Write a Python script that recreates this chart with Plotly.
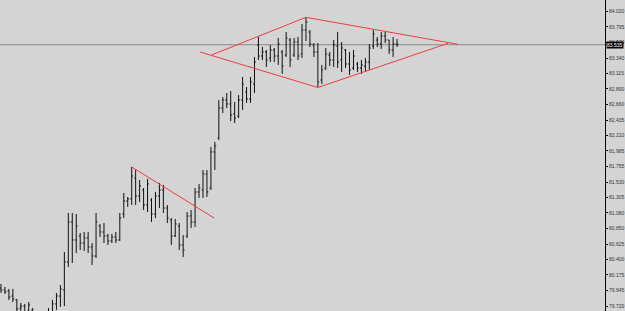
import plotly.graph_objects as go

# ---- data (prices) ----
bar_index = list(range(101))

high = [80.042, 79.998, 79.969, 79.969, 79.823, 79.764, 79.750, 79.779, 79.691, 79.618,
        79.545, 79.589, 79.691, 79.808, 79.910, 80.027, 80.509, 81.078, 81.078, 81.064,
        80.786, 80.801, 80.801, 80.640, 81.078, 80.918, 80.932, 80.772, 80.772, 80.801,
        81.078, 81.370, 81.312, 81.750, 81.706, 81.560, 81.443, 81.575, 81.297, 81.385,
        81.516, 81.487, 81.195, 81.005, 80.991, 80.932, 80.757, 81.093, 81.122, 81.443,
        81.502, 81.706, 81.706, 82.042, 82.115, 82.728, 82.772, 82.830, 82.859, 82.699,
        82.801, 83.064, 82.918, 83.064, 83.356, 83.648, 83.502, 83.458, 83.531, 83.487,
        83.633, 83.458, 83.721, 83.633, 83.633, 83.648, 83.838, 83.940, 83.750, 83.560,
        83.560, 83.239, 83.487, 83.429, 83.604, 83.721, 83.575, 83.473, 83.429, 83.458,
        83.283, 83.312, 83.341, 83.546, 83.750, 83.648, 83.721, 83.721, 83.604, 83.648,
        83.619]
low = [79.910, 79.896, 79.808, 79.779, 79.633, 79.589, 79.574, 79.574, 79.516, 79.428,
       79.341, 79.370, 79.443, 79.574, 79.662, 79.706, 79.720, 80.290, 80.348, 80.494,
       80.538, 80.523, 80.494, 80.319, 80.421, 80.728, 80.640, 80.611, 80.640, 80.640,
       80.669, 81.005, 81.166, 81.195, 81.195, 81.239, 81.122, 81.093, 80.947, 81.005,
       81.151, 81.078, 80.932, 80.611, 80.728, 80.538, 80.436, 80.713, 80.859, 80.874,
       81.297, 81.297, 81.312, 81.414, 81.706, 82.144, 82.538, 82.611, 82.421, 82.392,
       82.465, 82.582, 82.684, 82.684, 82.830, 83.312, 83.312, 83.210, 83.283, 83.283,
       83.239, 83.108, 83.356, 83.210, 83.356, 83.312, 83.341, 83.589, 83.502, 83.356,
       82.918, 82.962, 83.166, 83.224, 83.210, 83.195, 83.137, 83.195, 83.093, 83.166,
       83.137, 83.108, 83.137, 83.166, 83.473, 83.502, 83.473, 83.560, 83.400, 83.356,
       83.502]
open_ = [79.983, 79.954, 79.939, 79.866, 79.808, 79.691, 79.720, 79.647, 79.662, 79.574,
         79.487, 79.399, 79.545, 79.633, 79.750, 79.866, 79.954, 80.363, 80.947, 80.684,
         80.742, 80.640, 80.713, 80.582, 80.450, 80.888, 80.801, 80.742, 80.669, 80.728,
         80.684, 81.064, 81.253, 81.283, 81.589, 81.326, 81.414, 81.195, 81.268, 81.064,
         81.326, 81.414, 81.151, 80.976, 80.742, 80.888, 80.611, 80.742, 81.034, 80.947,
         81.385, 81.414, 81.648, 81.443, 81.969, 82.173, 82.611, 82.728, 82.670, 82.524,
         82.494, 82.728, 82.845, 82.743, 82.962, 83.531, 83.370, 83.429, 83.341, 83.458,
         83.370, 83.429, 83.385, 83.604, 83.385, 83.575, 83.400, 83.750, 83.721, 83.531,
         83.429, 83.020, 83.195, 83.385, 83.312, 83.516, 83.312, 83.458, 83.254, 83.195,
         83.254, 83.195, 83.224, 83.283, 83.516, 83.604, 83.546, 83.662, 83.604, 83.458,
         83.546]
close = [79.954, 79.925, 79.852, 79.823, 79.677, 79.720, 79.633, 79.735, 79.574, 79.487,
         79.399, 79.545, 79.633, 79.750, 79.866, 79.969, 80.363, 80.947, 80.684, 80.888,
         80.640, 80.713, 80.582, 80.450, 80.947, 80.801, 80.742, 80.669, 80.728, 80.684,
         81.005, 81.253, 81.283, 81.618, 81.326, 81.472, 81.195, 81.502, 81.064, 81.326,
         81.414, 81.151, 81.005, 80.742, 80.918, 80.611, 80.538, 81.034, 80.947, 81.385,
         81.443, 81.648, 81.385, 81.969, 82.056, 82.611, 82.728, 82.670, 82.509, 82.465,
         82.728, 82.962, 82.743, 82.991, 83.283, 83.370, 83.429, 83.312, 83.458, 83.370,
         83.546, 83.224, 83.633, 83.312, 83.575, 83.370, 83.750, 83.867, 83.546, 83.429,
         82.991, 83.166, 83.400, 83.312, 83.531, 83.283, 83.487, 83.254, 83.166, 83.370,
         83.195, 83.239, 83.283, 83.487, 83.692, 83.546, 83.662, 83.604, 83.458, 83.546,
         83.535]

current_price = 83.535
current_label = "83.535"

tick_values = [84.020, 83.795, 83.570, 83.340, 83.115, 82.890, 82.660, 82.435, 82.210, 81.985,
               81.755, 81.530, 81.305, 81.080, 80.850, 80.625, 80.400, 80.175, 79.945, 79.720]
tick_labels = ["84.020", "83.795", "83.570", "83.340", "83.115", "82.890", "82.660", "82.435",
               "82.210", "81.985", "81.755", "81.530", "81.305", "81.080", "80.850", "80.625",
               "80.400", "80.175", "79.945", "79.720"]

# trendlines: (x0, y0, x1, y1) in bar index / price
trend_lines = [
    (33.0, 81.750, 53.8, 81.005),     # falling line over first top
    (50.25, 83.429, 80.0, 82.910),    # diamond lower-left
    (53.16, 83.385, 77.0, 83.935),    # diamond upper-left
    (77.0, 83.935, 115.4, 83.541),    # diamond upper-right
    (80.0, 82.910, 112.9, 83.556),    # diamond lower-right
]

x_range = [-0.25, 152.5]
y_range = [79.647, 84.188]

BG = "#d4d4d4"
RED = "#f03c3c"

fig = go.Figure()
fig.add_trace(go.Ohlc(
    x=bar_index, open=open_, high=high, low=low, close=close,
    increasing=dict(line=dict(color="#111111", width=1)),
    decreasing=dict(line=dict(color="#111111", width=1)),
    tickwidth=0.35, hoverinfo="skip", showlegend=False,
))

shapes = [dict(type="line", xref="paper", yref="y", x0=0, x1=1,
               y0=current_price, y1=current_price,
               line=dict(color="#8a8a8a", width=1), layer="below")]
for (x0, y0, x1, y1) in trend_lines:
    shapes.append(dict(type="line", xref="x", yref="y", x0=x0, y0=y0, x1=x1, y1=y1,
                       line=dict(color=RED, width=1)))

fig.update_layout(
    width=625, height=311,
    margin=dict(l=0, r=20, t=0, b=0),
    paper_bgcolor=BG, plot_bgcolor=BG,
    showlegend=False,
    shapes=shapes,
    xaxis=dict(range=x_range, showgrid=False, zeroline=False, showline=False,
               showticklabels=False, ticks="", rangeslider=dict(visible=False),
               fixedrange=True),
    yaxis=dict(range=y_range, side="right", showgrid=False, zeroline=False,
               showline=True, linecolor="#000000", linewidth=1,
               ticks="outside", ticklen=2, tickcolor="#000000", tickwidth=1,
               tickvals=tick_values, ticktext=tick_labels,
               tickfont=dict(family="Liberation Sans", size=5, color="#333333"),
               fixedrange=True),
    annotations=[dict(xref="paper", yref="y", x=1, y=current_price, xanchor="left",
                      yanchor="middle", xshift=1, text=current_label, showarrow=False,
                      font=dict(family="Liberation Sans", size=5, color="#ffffff"),
                      bgcolor="#000000", borderpad=0)],
)

fig.write_html("out.html", config={"displayModeBar": False})
